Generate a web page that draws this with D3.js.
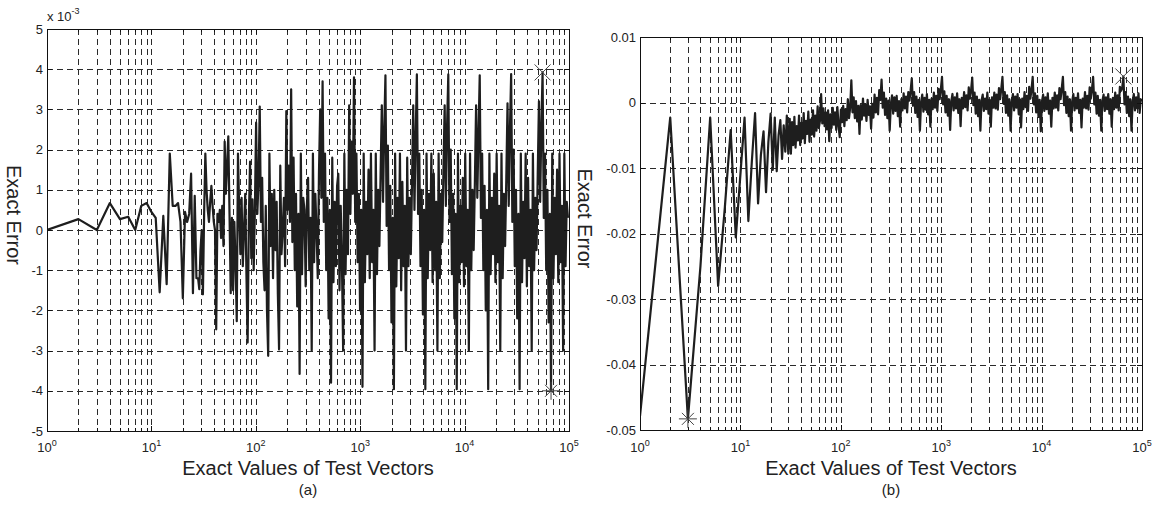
<!DOCTYPE html>
<html>
<head>
<meta charset="utf-8">
<script src="https://cdn.jsdelivr.net/npm/d3@7/dist/d3.min.js"></script>
<style>
  body { margin: 0; background: #fff; }
  svg text { font-family: "Liberation Sans", Arial, Helvetica, sans-serif; fill: #222; }
  .grid line { stroke: #2a2a2a; stroke-width: 1; stroke-dasharray: 6,4; shape-rendering: crispEdges; }
  .box { fill: none; stroke: #111; stroke-width: 1.2; shape-rendering: crispEdges; }
  .tick-mark { stroke: #111; stroke-width: 1; shape-rendering: crispEdges; }
  .err-line { fill: none; stroke: #1e1e1e; stroke-width: 2.2; stroke-linejoin: round; }
  .marker line { stroke: #444; stroke-width: 1; }
</style>
</head>
<body>
<div id="chart"></div>
<script>
// ---- data ----
// decades of the x axis (test vector values)
const xDecades = [1, 10, 100, 1000, 10000, 100000];
const yTicksA = [-5, -4, -3, -2, -1, 0, 1, 2, 3, 4, 5];           // in units of 10^-3
const yTicksB = [-0.05, -0.04, -0.03, -0.02, -0.01, 0, 0.01];

// test vectors are sampled this many times per octave once the curve gets dense
const samplesPerOctave = 26;

// (a) first test vectors 1..27, error in units of 10^-3
const xStartA = d3.range(1, 28);
const errStartA = [0, 0.27, 0, 0.67, 0.27, 0.33, 0, 0.6, 0.67, 0.45,
  0.3, -1.55, 0.35, -1.35, 1.9, 0.6, 0.6, 0.67, 0.2, -1.7,
  0.45, 0.2, 0.4, 1.4, -1.57, 0.85, -1.2];
// (a) dense part from 28 up to 1e5, error in units of 10^-3
const denseStartA = 28;
const errDenseA = [
  -1.2, -1.47, -0.5, 0, -1.6, 0.4, 1.9, 1.0, 0.5, 0.2, 0.7, 1.1, 0.6, 0.2, 0, -2.47, 0.4, 0.2, 0.5, -0.2, 0.6, -0.4, 2.2, 0.9, 1.6, 2.33,
  0.4, -1.57, 0.3, -1.5, 0.2, -0.8, -2.27, 1.9, 0.5, -0.6, 0.8, -0.9, 0, 0.9, -1.1, -2.8, 0.3, 1.7, -0.7, 0.76, -1.0, 0.5, 2.67, 0.4, 1.2, 3.07,
  0.2, 1.3, -0.8, -1.5, 0.6, -2.0, -3.13, 1.9, -0.4, 0.9, -1.2, 1.0, -0.5, 0.7, -1.6, -2.97, 1.6, -0.6, 0, 0.8, -0.9, 2.96, 0.5, 1.6, 0.2, 3.5,
  -0.3, 1.8, -1.0, 0.9, -1.9, 0.4, -3.58, 1.9, -1.1, 0.8, 0.5, -1.4, 0.6, 1.3, -1.0, 0.3, -3.0, 1.9, -0.8, 0.9, 0, -1.2, 1.4, 3.0, 0.8, 3.7,
  0.2, 1.9, -1.0, 0.8, -2.2, 0.5, -3.8, 1.8, -1.3, 0.7, -0.9, 1.1, 1.4, -1.5, 0.6, -0.8, -3.0, 1.9, -1.1, 1.0, -0.6, 3.1, 0.4, 2.2, 0.9, 3.8,
  0.2, 1.9, -0.8, 0.9, -2.0, 0.5, -3.9, 1.9, -1.3, 0.7, -0.6, 1.5, -1.2, 1.9, -0.8, 0.5, -3.0, 1.9, -1.1, 1.0, -0.4, 1.4, 3.1, 0.7, 2.5, 3.85,
  0.1, 2.1, -1.0, 1.1, -2.3, 0.3, -3.96, 1.9, -1.4, 0.8, -0.7, 1.9, -1.5, 1.2, -0.9, 0.6, -3.0, 1.8, -0.9, 0.8, -0.6, 1.2, 3.1, 0.5, 2.3, 3.87,
  0.4, 1.9, -0.9, 1.0, -2.1, 0.5, -3.96, 1.9, -1.2, 0.9, -0.5, 1.9, -1.3, 1.4, -1.0, 0.7, -3.0, 1.9, -1.2, 0.9, -0.3, 1.5, 3.1, 0.6, 2.6, 3.87,
  0.2, 2.0, -1.1, 0.9, -2.2, 0.4, -3.96, 1.9, -1.3, 0.6, -0.8, 1.3, -1.4, 1.9, -0.9, 0.5, -3.0, 1.9, -1.0, 1.0, -0.5, 1.2, 3.1, 0.8, 2.4, 3.85,
  0.3, 1.9, -1.0, 1.1, -2.0, 0.5, -3.96, 1.9, -1.1, 0.8, -0.6, 1.4, -1.3, 1.9, -0.8, 0.6, -3.0, 1.9, -1.2, 0.9, -0.4, 1.3, 3.15, 0.6, 2.5, 3.88,
  0.2, 2.0, -0.9, 1.0, -2.2, 0.4, -3.96, 1.9, -1.3, 0.7, -0.7, 1.9, -1.4, 1.3, -0.9, 0.5, -3.0, 1.9, -1.0, 0.8, -0.5, 1.4, 3.2, 0.7, 2.6, 3.92,
  0.3, 1.9, -1.0, 1.0, -2.3, 0.4, -4.0, 1.9, -1.2, 0.8, -0.6, 1.5, -1.3, 1.9, -0.8, 0.6, -3.0, 1.9, -0.9, 0.7, 0.3
];

// (b) first test vectors 1..30, error in units of 10^-3
const xStartB = d3.range(1, 31);
const errStartB = [-47.9, -2.3, -48.3, -25, -2.3, -28, -16, -4.2, -20.6, -11,
  -2.3, -18.1, -9, -1.6, -15.4, -8, -4.4, -13.7, -6, -1.7,
  -10.3, -2.3, -10.5, -5, -2.7, -8.6, -3.5, -7.5, -2.0, -7.8];
// (b) dense part from 31 up to 1e5, error in units of 10^-3
const denseStartB = 31;
const errDenseB = [
  -2.5, -7.8, -3.0, -6.5, -2.2, -6.9, -3.6, -5.8, -2.0, -6.5, -3.1, -5.5, -1.6, -6.2, -2.8, -4.8, -1.4, -6.0, -2.6, -4.9, -1.2, -5.2, -2.0, -4.3, -0.6, -3.9,
  -2.8, 1.3, -3.2, -0.9, -3.6, -1.5, -4.1, -1.2, -5.9, -1.8, -3.9, -0.8, -3.4, -1.5, -4.2, -0.7, -3.5, -5.3, -1.1, -3.0, -0.5, -3.6, -1.0, -2.7, 0.5, -2.4,
  -0.8, 3.4, -1.5, 0.8, -2.4, 0.2, -2.9, -0.5, -4.8, -0.4, -2.6, 0.6, -2.0, -0.3, -2.8, 0.4, -1.9, -0.6, -4.0, -0.2, -2.3, 1.2, -1.5, 0.7, -1.8, 1.9,
  0.4, 3.5, -0.8, 1.5, -1.9, 0.6, -2.4, 0.3, -4.3, -0.2, 1.1, -1.7, 0.8, -1.3, 1.0, -2.1, 0.2, -3.7, 0.5, -1.2, 1.4, -0.9, 0.9, -1.5, 1.6, 0.3,
  1.8, 3.7, -0.5, 1.6, -1.6, 0.9, -2.2, 0.4, -4.3, 0.1, 1.2, -1.4, 0.7, -1.1, 1.3, -1.8, 0.4, -3.7, 0.6, -1.0, 1.5, -0.8, 1.0, -1.3, 2.1, 0.5,
  2.0, 3.9, -0.3, 1.7, -1.5, 1.0, -2.0, 0.5, -4.2, 0.2, 1.3, -1.2, 0.8, -0.9, 1.4, -1.6, 0.5, -3.6, 0.7, -0.9, 1.6, -0.7, 1.1, -1.2, 2.3, 0.6,
  1.9, 3.8, -0.4, 1.5, -1.7, 0.9, -2.1, 0.4, -4.3, 0.3, 1.2, -1.3, 0.6, -1.0, 1.5, -1.7, 0.4, -3.7, 0.8, -0.8, 1.5, -0.9, 1.2, -1.1, 2.2, 0.5,
  2.1, 3.9, -0.2, 1.6, -1.6, 1.1, -2.0, 0.5, -4.3, 0.1, 1.3, -1.2, 0.9, -0.8, 1.3, -1.8, 0.5, -3.8, 0.6, -1.0, 1.6, -0.7, 1.0, -1.3, 2.4, 0.6,
  2.0, 3.9, -0.3, 1.4, -1.5, 1.0, -2.2, 0.4, -4.4, 0.2, 1.2, -1.3, 0.8, -1.0, 1.4, -1.7, 0.3, -3.7, 0.7, -0.9, 1.5, -0.8, 1.1, -1.2, 2.2, 0.5,
  2.1, 3.9, -0.4, 1.6, -1.6, 0.9, -2.1, 0.5, -4.3, 0.2, 1.3, -1.2, 0.7, -0.9, 1.4, -1.6, 0.4, -3.8, 0.6, -0.8, 1.6, -0.9, 1.0, -1.1, 2.3, 0.6,
  2.0, 3.9, -0.3, 1.5, -1.7, 1.0, -2.0, 0.4, -4.3, 0.3, 1.2, -1.3, 0.8, -1.0, 1.3, -1.7, 0.5, -3.7, 0.7, -1.0, 1.5, -0.8, 1.1, -1.2, 2.4, 1.8,
  2.2, 3.97, -0.3, 1.6, -1.6, 0.9, -2.1, 0.5, -4.3, 0.2, 1.3, -1.2, 0.8, -0.9, 1.4, -1.6, 0.5, 0.2
];

// ---- chart ----
const svg = d3.select("#chart").append("svg")
  .attr("width", 1156)
  .attr("height", 505);

class ErrorPlot {
  constructor(_config) {
    this.config = _config;
    this.initVis();
  }

  initVis() {
    let vis = this;
    const c = vis.config;

    vis.g = svg.append("g").attr("id", c.id);

    vis.xScale = d3.scaleLog().domain([1, 100000]).range([c.left, c.right]);
    vis.yScale = d3.scaleLinear().domain(c.yDomain).range([c.bottom, c.top]);

    // join the sparse integer part and the densely sampled part
    vis.data = c.xStart.map((x, i) => ({x: x, y: c.errStart[i] * c.unit}));
    c.errDense.forEach((v, i) => {
      vis.data.push({x: c.denseStart * Math.pow(2, i / samplesPerOctave), y: v * c.unit});
    });

    vis.renderVis();
  }

  renderVis() {
    let vis = this;
    const c = vis.config;

    // dashed grid: every log tick and every y tick
    const logTicks = vis.xScale.ticks().filter(d => d > 1 && d < 100000);
    const grid = vis.g.append("g").attr("class", "grid");
    grid.selectAll(".vgrid")
      .data(logTicks)
      .join("line")
      .attr("class", "vgrid")
      .attr("x1", d => Math.round(vis.xScale(d)) + 0.5)
      .attr("x2", d => Math.round(vis.xScale(d)) + 0.5)
      .attr("y1", c.top)
      .attr("y2", c.bottom);
    grid.selectAll(".hgrid")
      .data(c.yTicks.slice(1, -1))
      .join("line")
      .attr("class", "hgrid")
      .attr("x1", c.left)
      .attr("x2", c.right)
      .attr("y1", d => Math.round(vis.yScale(d)) + 0.5)
      .attr("y2", d => Math.round(vis.yScale(d)) + 0.5);

    // error curve
    vis.g.append("clipPath").attr("id", c.id + "-clip")
      .append("rect")
      .attr("x", c.left).attr("y", c.top - 2)
      .attr("width", c.right - c.left).attr("height", c.bottom - c.top + 4);

    const line = d3.line()
      .x(d => vis.xScale(d.x))
      .y(d => vis.yScale(d.y));

    vis.g.append("path")
      .datum(vis.data)
      .attr("class", "err-line")
      .attr("clip-path", `url(#${c.id}-clip)`)
      .attr("d", line);

    // box
    vis.g.append("rect")
      .attr("class", "box")
      .attr("x", c.left + 0.5)
      .attr("y", c.top + 0.5)
      .attr("width", c.right - c.left)
      .attr("height", c.bottom - c.top);

    // inward tick marks
    const allTicks = vis.xScale.ticks();
    const tickLen = d => xDecades.includes(d) ? 5 : 3;
    vis.g.selectAll(".xtick-b")
      .data(allTicks)
      .join("line")
      .attr("class", "tick-mark xtick-b")
      .attr("x1", d => Math.round(vis.xScale(d)) + 0.5)
      .attr("x2", d => Math.round(vis.xScale(d)) + 0.5)
      .attr("y1", c.bottom)
      .attr("y2", d => c.bottom - tickLen(d));
    vis.g.selectAll(".xtick-t")
      .data(allTicks)
      .join("line")
      .attr("class", "tick-mark xtick-t")
      .attr("x1", d => Math.round(vis.xScale(d)) + 0.5)
      .attr("x2", d => Math.round(vis.xScale(d)) + 0.5)
      .attr("y1", c.top)
      .attr("y2", d => c.top + tickLen(d));
    vis.g.selectAll(".ytick-l")
      .data(c.yTicks)
      .join("line")
      .attr("class", "tick-mark ytick-l")
      .attr("x1", c.left)
      .attr("x2", c.left + 5)
      .attr("y1", d => Math.round(vis.yScale(d)) + 0.5)
      .attr("y2", d => Math.round(vis.yScale(d)) + 0.5);
    vis.g.selectAll(".ytick-r")
      .data(c.yTicks)
      .join("line")
      .attr("class", "tick-mark ytick-r")
      .attr("x1", c.right)
      .attr("x2", c.right - 5)
      .attr("y1", d => Math.round(vis.yScale(d)) + 0.5)
      .attr("y2", d => Math.round(vis.yScale(d)) + 0.5);

    // y tick labels
    vis.g.selectAll(".ylab")
      .data(c.yTicks)
      .join("text")
      .attr("class", "ylab")
      .attr("x", c.left - 4)
      .attr("y", d => vis.yScale(d))
      .attr("dy", "0.36em")
      .attr("text-anchor", "end")
      .style("font-size", "13px")
      .text(d => String(d));

    // x tick labels 10^k
    const xl = vis.g.selectAll(".xlab")
      .data(xDecades)
      .join("text")
      .attr("class", "xlab")
      .attr("x", d => vis.xScale(d))
      .attr("y", 452)
      .attr("text-anchor", "middle")
      .style("font-size", "13px");
    xl.append("tspan").text("10");
    xl.append("tspan")
      .attr("dy", -6)
      .style("font-size", "9px")
      .text(d => Math.round(Math.log10(d)));

    // axis titles
    vis.g.append("text")
      .attr("transform", `translate(${c.yLabelX},${(c.top + c.bottom) / 2 - 15}) rotate(90)`)
      .attr("text-anchor", "middle")
      .style("font-size", "20px")
      .text("Exact Error");
    vis.g.append("text")
      .attr("x", (c.left + c.right) / 2)
      .attr("y", 475)
      .attr("text-anchor", "middle")
      .style("font-size", "20px")
      .text("Exact Values of Test Vectors");
    vis.g.append("text")
      .attr("x", (c.left + c.right) / 2)
      .attr("y", 495)
      .attr("text-anchor", "middle")
      .style("font-size", "15px")
      .text(c.caption);

    // markers at the largest and smallest error
    const maxP = vis.data[d3.maxIndex(vis.data, d => d.y)];
    const minP = vis.data[d3.minIndex(vis.data, d => d.y)];
    const mx = vis.g.append("g").attr("class", "marker")
      .attr("transform", `translate(${vis.xScale(maxP.x)},${vis.yScale(maxP.y)})`);
    [[-8, -8, 8, 8], [-8, 8, 8, -8]].forEach(s => {
      mx.append("line").attr("x1", s[0]).attr("y1", s[1]).attr("x2", s[2]).attr("y2", s[3]);
    });
    const mn = vis.g.append("g").attr("class", "marker")
      .attr("transform", `translate(${vis.xScale(minP.x)},${vis.yScale(minP.y)})`);
    [[-9, 0, 9, 0], [0, -9, 0, 9], [-6, -6, 6, 6], [-6, 6, 6, -6]].forEach(s => {
      mn.append("line").attr("x1", s[0]).attr("y1", s[1]).attr("x2", s[2]).attr("y2", s[3]);
    });
  }
}

const plotA = new ErrorPlot({
  id: "plotA", left: 47, right: 569, top: 29, bottom: 431,
  yDomain: [-5, 5], yTicks: yTicksA, unit: 1,
  xStart: xStartA, errStart: errStartA, denseStart: denseStartA, errDense: errDenseA,
  yLabelX: 7, caption: "(a)"
});

const plotB = new ErrorPlot({
  id: "plotB", left: 640, right: 1142, top: 37, bottom: 430,
  yDomain: [-0.05, 0.01], yTicks: yTicksB, unit: 0.001,
  xStart: xStartB, errStart: errStartB, denseStart: denseStartB, errDense: errDenseB,
  yLabelX: 578, caption: "(b)"
});

// exponent note over panel (a)
const expNote = svg.append("text")
  .attr("x", 47)
  .attr("y", 21)
  .style("font-size", "13px");
expNote.append("tspan").text("x 10");
expNote.append("tspan").attr("dy", -7).style("font-size", "9px").text("-3");
</script>
</body>
</html>
